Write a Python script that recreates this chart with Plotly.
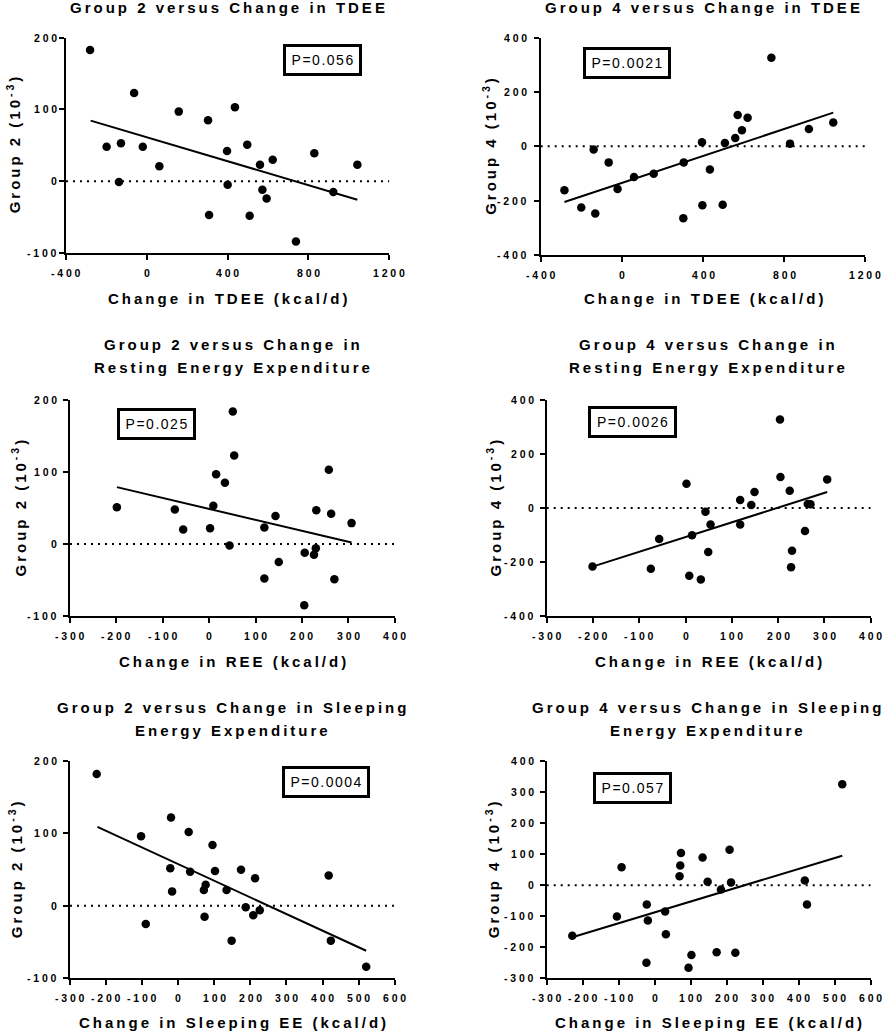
import plotly.graph_objects as go

W, H = 883, 1032

# ---------------- data ----------------
tdee_x_g2 = [-281, -199, -128, -138, -63, -20, 62, 158, 303, 308, 397, 400, 436, 497, 509, 560, 572, 593, 623, 738, 829, 923, 1042]
g2_tdee = [183, 48, 53, -1, 123, 48, 21, 97, 85, -47, 42, -5, 103, 51, -48, 23, -12, -24, 30, -84, 39, -15, 23]
fit_g2_tdee_x = [-278, 1042]
fit_g2_tdee_y = [84.5, -25.8]

tdee_x_g4 = [-283, -200, -131, -139, -65, -21, 60, 157, 303, 305, 395, 397, 434, 497, 508, 559, 571, 592, 620, 737, 829, 922, 1042]
g4_tdee = [-162, -225, -247, -12, -59, -157, -113, -101, -265, -59, 15, -217, -85, -215, 12, 31, 115, 59, 105, 326, 10, 64, 88]
fit_g4_tdee_x = [-283, 1042]
fit_g4_tdee_y = [-205, 124]

ree_x_g2 = [-199, -74, -56, 2, 9, 15, 34, 44, 51, 54, 119, 119, 143, 150, 205, 206, 226, 230, 231, 258, 263, 270, 307]
g2_ree = [51, 48, 20, 22, 53, 97, 85, -2, 184, 123, 23, -48, 39, -25, -85, -12, -15, -6, 47, 103, 42, -49, 29]
fit_g2_ree_x = [-199, 307]
fit_g2_ree_y = [79, 2]

ree_x_g4 = [-201, -75, -57, 2, 8, 14, 33, 43, 49, 54, 118, 118, 142, 149, 204, 205, 225, 228, 230, 258, 264, 270, 306]
g4_ree = [-217, -225, -115, 90, -251, -101, -265, -14, -163, -61, 30, -61, 11, 59, 328, 115, 64, -219, -158, -85, 15, 14, 106]
fit_g4_ree_x = [-201, 306]
fit_g4_ree_y = [-217, 59]

see_x_g2 = [-226, -103, -90, -20, -22, -17, 29, 33, 71, 76, 73, 95, 102, 134, 148, 174, 187, 208, 213, 226, 417, 423, 521]
g2_see = [182, 96, -25, 122, 52, 20, 102, 47, 22, 29, -15, 84, 48, 22, -48, 50, -2, -13, 38, -6, 42, -48, -84]
fit_g2_see_x = [-224, 521]
fit_g2_see_y = [109, -62]

see_x_g4 = [-229, -105, -92, -22, -19, -23, 29, 31, 69, 71, 73, 94, 102, 133, 147, 172, 184, 208, 212, 224, 417, 423, 521]
g4_see = [-163, -101, 58, -62, -114, -250, -85, -158, 29, 63, 104, -266, -225, 89, 11, -216, -14, 114, 9, -218, 15, -62, 325]
fit_g4_see_x = [-229, 521]
fit_g4_see_y = [-168, 95]

x_ticks_tdee = [-400, 0, 400, 800, 1200]
x_ticks_ree = [-300, -200, -100, 0, 100, 200, 300, 400]
x_ticks_see = [-300, -200, -100, 0, 100, 200, 300, 400, 500, 600]
y_ticks_g2 = [-100, 0, 100, 200]
y_ticks_g4_wide = [-400, -200, 0, 200, 400]
y_ticks_g4_see = [-300, -200, -100, 0, 100, 200, 300, 400]

p_values = ["P=0.056", "P=0.0021", "P=0.025", "P=0.0026", "P=0.0004", "P=0.057"]
titles = [
    ["Group 2 versus Change in TDEE"],
    ["Group 4 versus Change in TDEE"],
    ["Group 2 versus Change in", "Resting Energy Expenditure"],
    ["Group 4 versus Change in", "Resting Energy Expenditure"],
    ["Group 2 versus Change in Sleeping", "Energy Expenditure"],
    ["Group 4 versus Change in Sleeping", "Energy Expenditure"],
]
x_titles = ["Change in TDEE (kcal/d)", "Change in TDEE (kcal/d)",
            "Change in REE (kcal/d)", "Change in REE (kcal/d)",
            "Change in Sleeping EE (kcal/d)", "Change in Sleeping EE (kcal/d)"]
y_titles = ["Group 2 (10<sup>-3</sup>)", "Group 4 (10<sup>-3</sup>)",
            "Group 2 (10<sup>-3</sup>)", "Group 4 (10<sup>-3</sup>)",
            "Group 2 (10<sup>-3</sup>)", "Group 4 (10<sup>-3</sup>)"]

# ---------------- layout geometry (pixels) ----------------
panels = [
    dict(xs=tdee_x_g2, ys=g2_tdee, fx=fit_g2_tdee_x, fy=fit_g2_tdee_y, xt=x_ticks_tdee, yt=y_ticks_g2,
         px=(66, 389.3), py=(37.7, 253), title_y=[7], tcx=227.5, ytx=13, pbox=(322.5, 60), pw=(71, 24), xty=298, ylr=59.3),
    dict(xs=tdee_x_g4, ys=g4_tdee, fx=fit_g4_tdee_x, fy=fit_g4_tdee_y, xt=x_ticks_tdee, yt=y_ticks_g4_wide,
         px=(540.7, 865.3), py=(37.7, 255), title_y=[7], tcx=702, ytx=489.5, pbox=(627, 62.5), pw=(80, 24), xty=298, ylr=529.3),
    dict(xs=ree_x_g2, ys=g2_ree, fx=fit_g2_ree_x, fy=fit_g2_ree_y, xt=x_ticks_ree, yt=y_ticks_g2,
         px=(70, 394.7), py=(400, 616), title_y=[345, 368], tcx=232, ytx=18.5, pbox=(156.7, 423.7), pw=(71, 24), xty=661, ylr=59.3),
    dict(xs=ree_x_g4, ys=g4_ree, fx=fit_g4_ree_x, fy=fit_g4_ree_y, xt=x_ticks_ree, yt=y_ticks_g4_wide,
         px=(546.7, 870.7), py=(400, 616), title_y=[345, 368], tcx=707, ytx=493.5, pbox=(632.5, 422.5), pw=(81, 24), xty=661, ylr=535.7),
    dict(xs=see_x_g2, ys=g2_see, fx=fit_g2_see_x, fy=fit_g2_see_y, xt=x_ticks_see, yt=y_ticks_g2,
         px=(70, 394.7), py=(761, 978.3), title_y=[707, 730], tcx=232, ytx=15.5, pbox=(326, 781.5), pw=(80, 24), xty=1022, ylr=59.3),
    dict(xs=see_x_g4, ys=g4_see, fx=fit_g4_see_x, fy=fit_g4_see_y, xt=x_ticks_see, yt=y_ticks_g4_see,
         px=(546.7, 870.7), py=(761, 978.3), title_y=[707, 730], tcx=706, ytx=492.5, pbox=(632.5, 787.7), pw=(71, 24), xty=1022, ylr=535.7),
]

FONT = "Liberation Sans, Arial, Helvetica, sans-serif"
TICK_LS = 2.8


def ls(text, px):
    # letter spacing on all but the last character, so there is no trailing gap
    return f'<span style="letter-spacing:{px}px">{text[:-1]}</span>{text[-1]}'


def fx_(x):
    return x / W


def fy_(y):
    return 1 - y / H


fig = go.Figure()
annotations = []
shapes = []
layout = {}
tick_font = dict(family=FONT, size=10.5, color="black", weight="bold")
big_font = dict(family=FONT, size=15, color="black", weight="bold")

for i, p in enumerate(panels):
    n = "" if i == 0 else str(i + 1)
    xa, ya = "x" + n, "y" + n
    fig.add_trace(go.Scatter(x=p["xs"], y=p["ys"], mode="markers", xaxis=xa, yaxis=ya,
                             marker=dict(color="black", size=8.5), showlegend=False, cliponaxis=False))
    fig.add_trace(go.Scatter(x=p["fx"], y=p["fy"], mode="lines", xaxis=xa, yaxis=ya,
                             line=dict(color="black", width=2), showlegend=False))
    xr = [min(p["xt"]), max(p["xt"])]
    yr = [min(p["yt"]), max(p["yt"])]
    common = dict(showline=True, linecolor="black", linewidth=2, ticks="outside", ticklen=5,
                  tickwidth=2, tickcolor="black", showgrid=False, zeroline=False, automargin=False,
                  showticklabels=False, tickmode="array", fixedrange=True)
    layout["xaxis" + n] = dict(common, domain=[fx_(p["px"][0]), fx_(p["px"][1])], range=xr,
                               anchor=ya, tickvals=p["xt"])
    layout["yaxis" + n] = dict(common, domain=[fy_(p["py"][1]), fy_(p["py"][0])], range=yr,
                               anchor=xa, tickvals=p["yt"])
    for v in p["xt"]:
        annotations.append(dict(text=ls(str(v), TICK_LS), x=v, xref=xa, y=fy_(p["py"][1] + 20), yref="paper",
                                xanchor="center", yanchor="middle", showarrow=False, font=tick_font))
    for v in p["yt"]:
        annotations.append(dict(text=ls(str(v), TICK_LS), x=fx_(p["ylr"]), xref="paper", y=v, yref=ya,
                                xanchor="right", yanchor="middle", showarrow=False, font=tick_font))
    shapes.append(dict(type="line", xref=xa, yref=ya, x0=xr[0], x1=xr[1], y0=0, y1=0,
                       line=dict(color="black", width=2, dash="2px,5px")))
    cx = (p["px"][0] + p["px"][1]) / 2
    for line, ty in zip(titles[i], p["title_y"]):
        annotations.append(dict(text=ls(line, 3), x=fx_(p["tcx"]), y=fy_(ty), xref="paper", yref="paper",
                                xanchor="center", yanchor="middle", showarrow=False, font=big_font))
    annotations.append(dict(text=ls(x_titles[i], 3), x=fx_(cx), y=fy_(p["xty"]), xref="paper", yref="paper",
                            xanchor="center", yanchor="middle", showarrow=False, font=big_font))
    cy = (p["py"][0] + p["py"][1]) / 2
    annotations.append(dict(text=ls(y_titles[i], 3), x=fx_(p["ytx"]), y=fy_(cy), xref="paper", yref="paper",
                            xanchor="center", yanchor="middle", showarrow=False, textangle=-90, font=big_font))
    annotations.append(dict(text=ls(p_values[i], 1.5), x=fx_(p["pbox"][0]), y=fy_(p["pbox"][1]),
                            xref="paper", yref="paper", xanchor="center", yanchor="middle",
                            width=p["pw"][0], height=p["pw"][1], align="center", valign="middle",
                            showarrow=False, bordercolor="black", borderwidth=3, borderpad=1,
                            bgcolor="white", font=dict(family=FONT, size=14, color="black")))

fig.update_layout(template="none", width=W, height=H, autosize=False, margin=dict(l=0, r=0, t=0, b=0),
                  paper_bgcolor="white", plot_bgcolor="white", showlegend=False,
                  annotations=annotations, shapes=shapes, **layout)

fig.write_html("out.html", config={"displayModeBar": False},
               post_script="document.body.style.margin='0px';document.body.style.overflow='hidden';")
